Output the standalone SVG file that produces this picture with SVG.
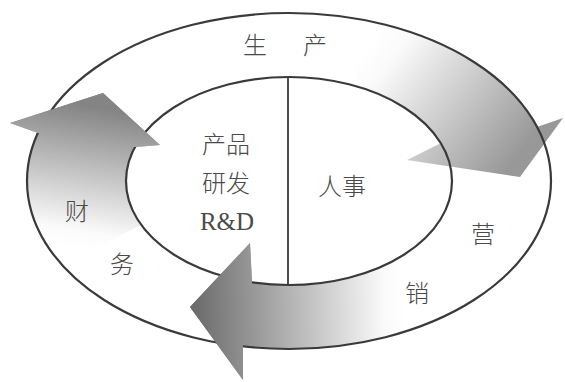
<svg xmlns="http://www.w3.org/2000/svg" width="565" height="382" viewBox="0 0 565 382">
  <style>
    .ring { fill: none; stroke: #3a3a3a; stroke-width: 2.2; }
    .div { stroke: #3a3a3a; stroke-width: 1.8; }
    .cjk { font-family: "Noto Sans CJK SC", "Noto Sans", sans-serif; font-size: 24px; font-weight: 300; fill: #4a4a4a; text-anchor: middle; }
    .lat { font-family: "Liberation Serif", serif; font-size: 25px; fill: #4a4a4a; text-anchor: middle; }
  </style>
  <defs>
    <linearGradient id="gRight" gradientUnits="userSpaceOnUse" x1="368" y1="45" x2="515" y2="160">
      <stop offset="0" stop-color="#ffffff"/>
      <stop offset="0.15" stop-color="#fafafa"/>
      <stop offset="1" stop-color="#989898"/>
    </linearGradient>
    <linearGradient id="gLeft" gradientUnits="userSpaceOnUse" x1="78" y1="248" x2="100" y2="108">
      <stop offset="0" stop-color="#ffffff"/>
      <stop offset="0.12" stop-color="#fbfbfb"/>
      <stop offset="1" stop-color="#848484"/>
    </linearGradient>
    <linearGradient id="gBottom" gradientUnits="userSpaceOnUse" x1="405" y1="300" x2="195" y2="305">
      <stop offset="0" stop-color="#ffffff"/>
      <stop offset="0.1" stop-color="#fafafa"/>
      <stop offset="1" stop-color="#6c6c6c"/>
    </linearGradient>
  </defs>
  <rect width="565" height="382" fill="#ffffff"/>

  <g id="connectors">
    <path id="arrow-right" fill="url(#gRight)" d="M344,17 A262,168 0 0 1 537,127 L563,118 L520,177 L407,160 L441,143 A163,104 0 0 0 358,87 Z"/>
    <path id="arrow-left" fill="url(#gLeft)" d="M62,265 A262,168 0 0 1 38,133 L10,123 L103,93 L160,145 L135,147 A163,104 0 0 0 141,225 Z"/>
    <path id="arrow-bottom" fill="url(#gBottom)" d="M420,327 A262,168 0 0 1 243,346 L243,380 L190,307 L250,243 L252,282 A163,104 0 0 0 415,247 Z"/>
  </g>

  <g id="outer-ring">
    <ellipse class="ring" cx="289" cy="181" rx="262" ry="168"/>
    <text class="cjk" x="255" y="54">生</text>
    <text class="cjk" x="315" y="54">产</text>
    <text class="cjk" x="77" y="220">财</text>
    <text class="cjk" x="122" y="273">务</text>
    <text class="cjk" x="483" y="243">营</text>
    <text class="cjk" x="417" y="302">销</text>
  </g>

  <g id="inner-ring">
    <ellipse class="ring" cx="289" cy="181" rx="163" ry="104"/>
    <line class="div" x1="288" y1="77" x2="288" y2="285"/>
  </g>

  <g id="heads">
    <polygon fill="url(#gLeft)" points="10,123 103,93 160,145 135,147 38,133"/>
    <polygon fill="url(#gBottom)" points="250,243 252,282 243,346 243,380 190,307"/>
  </g>

  <g id="node-rd">
    <text class="cjk" x="226" y="153">产品</text>
    <text class="cjk" x="226" y="192">研发</text>
    <text class="lat" x="227" y="230">R&amp;D</text>
  </g>

  <g id="node-hr">
    <text class="cjk" x="342" y="195">人事</text>
  </g>
</svg>
